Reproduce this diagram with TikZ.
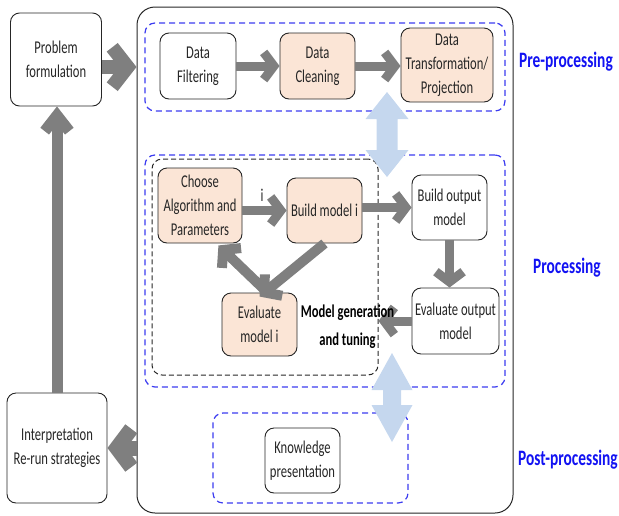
\documentclass[tikz,border=0pt]{standalone}
\usepackage{fontspec}
\setmainfont{Carlito}[FakeStretch=0.7]
\usetikzlibrary{calc}
\definecolor{peach}{HTML}{FBE5D6}
\definecolor{agray}{HTML}{7F7F7F}
\definecolor{lblue}{HTML}{C5D7EE}
\definecolor{dblue}{HTML}{3C3CF0}
\definecolor{tblue}{HTML}{1212F2}
% open-chevron thick arrow: #1 line width, #2 arm length, #3 arm angle, #4 start, #5 end
\newcommand\chevarrow[5]{%
  \pgfmathsetmacro\chm{#1/(2*sin(#3))}%
  \coordinate (chV) at ($(#5)!\chm pt!(#4)$);
  \draw[agray, line width=#1pt] (#4) -- (chV);
  \draw[agray, line width=#1pt, line join=miter, miter limit=20] ($(chV)!#2pt!#3:(#4)$) -- (chV) -- ($(chV)!#2pt!-#3:(#4)$);
}
\begin{document}
\begin{tikzpicture}[x=1pt,y=-1pt,
 box/.style={draw=black!85, line width=0.9pt, rounded corners=9pt, align=center, font=\fontsize{18}{24}\selectfont, text=black!85, inner sep=0pt},
 pbox/.style={box, fill=peach},
 wbox/.style={box, fill=white},
 bluedash/.style={draw=dblue, line width=1.2pt, dash pattern=on 6pt off 4pt, rounded corners=10pt, inner sep=0pt},
 blackdash/.style={draw=black!85, line width=1pt, dash pattern=on 5pt off 3pt, rounded corners=10pt, inner sep=0pt},
 lbl/.style={font=\bfseries\fontsize{22}{26}\selectfont, text=tblue},
]
\useasboundingbox (0,0) rectangle (619,515);
% outer container
\node[draw=black!85, line width=1pt, rounded corners=18pt, minimum width=376pt, minimum height=506pt, inner sep=0pt] (outer) at (325,260) {};
% dashed groups
\node[bluedash, minimum width=360pt, minimum height=88pt] (pre) at (325,67) {};
\node[bluedash, minimum width=360pt, minimum height=232pt] (proc) at (325,271) {};
\node[bluedash, minimum width=195pt, minimum height=90pt] (post) at (310.5,458) {};
\node[blackdash, minimum width=226pt, minimum height=216pt] (mg) at (265,267) {};
% boxes
\node[wbox, minimum width=91pt, minimum height=93pt] (prob) at (56,59.5) {Problem\\formulation};
\node[wbox, minimum width=100pt, minimum height=110pt] (interp) at (57,448) {Interpretation\\Re-run strategies};
\node[wbox, minimum width=76pt, minimum height=66pt] (filt) at (198,66) {Data\\Filtering};
\node[pbox, minimum width=75pt, minimum height=66pt] (clean) at (317.5,66) {Data\\Cleaning};
\node[pbox, minimum width=92pt, minimum height=74pt] (trans) at (447,65) {Data\\Transformation/\\Projection};
\node[pbox, minimum width=84pt, minimum height=75pt] (choose) at (200,205.5) {Choose\\Algorithm and\\Parameters};
\node[pbox, minimum width=75pt, minimum height=65pt] (build) at (324.5,210.5) {Build model i};
\node[pbox, minimum width=75pt, minimum height=63pt] (evali) at (259.5,324.5) {Evaluate\\model i};
\node[wbox, minimum width=75pt, minimum height=65pt] (bout) at (449.5,207.5) {Build output\\model};
\node[wbox, minimum width=87pt, minimum height=66pt] (eout) at (455.5,321) {Evaluate output\\model};
\node[wbox, minimum width=75pt, minimum height=65pt] (know) at (302.5,460.5) {Knowledge\\presentation};
% gray arrows
\chevarrow{14}{25}{52}{prob.east |- pre.center}{outer.west |- pre.center}
\chevarrow{11}{20}{38}{interp.north}{interp.north |- prob.south}
\chevarrow{15}{24}{53}{outer.west |- interp.east}{interp.east}
\chevarrow{9}{17}{53}{filt.east}{clean.west}
\chevarrow{9}{17}{53}{clean.east}{trans.west |- clean.east}
\chevarrow{9}{17}{53}{choose.east |- build.west}{build.west}
\chevarrow{9}{17}{53}{build.east |- bout.west}{bout.west}
\chevarrow{9}{17}{53}{bout.south}{bout.south |- eout.north}
\chevarrow{9}{17}{53}{eout.west}{mg.east |- eout.west}
\chevarrow{10}{18}{50}{build.south}{[yshift=-4pt]evali.north}
\chevarrow{10}{18}{50}{[xshift=8pt]evali.north}{[xshift=-24pt,yshift=-2pt]choose.south east}
% labels
\node[font=\fontsize{18}{24}\selectfont, text=black!85] (ilbl) at (262,195) {i};
\node[font=\bfseries\fontsize{18}{28}\selectfont, align=center] (mgl) at (347.5,327) {Model generation\\and tuning};
\node[lbl] (lpre) at (566,62) {Pre-processing};
\node[lbl] (lproc) at (567,268) {Processing};
\node[lbl] (lpost) at (568,460) {Post-processing};
% light blue double arrows
\fill[lblue] (387,92) -- (408.5,119) -- (397.5,119) -- (397.5,150) -- (408.5,150) -- (387,177) -- (365.5,150) -- (376.5,150) -- (376.5,119) -- (365.5,119) -- cycle;
\fill[lblue] (392,353) -- (412.5,390) -- (401,390) -- (401,405) -- (412.5,405) -- (392,442) -- (371.5,405) -- (383,405) -- (383,390) -- (371.5,390) -- cycle;
\end{tikzpicture}
\end{document}
